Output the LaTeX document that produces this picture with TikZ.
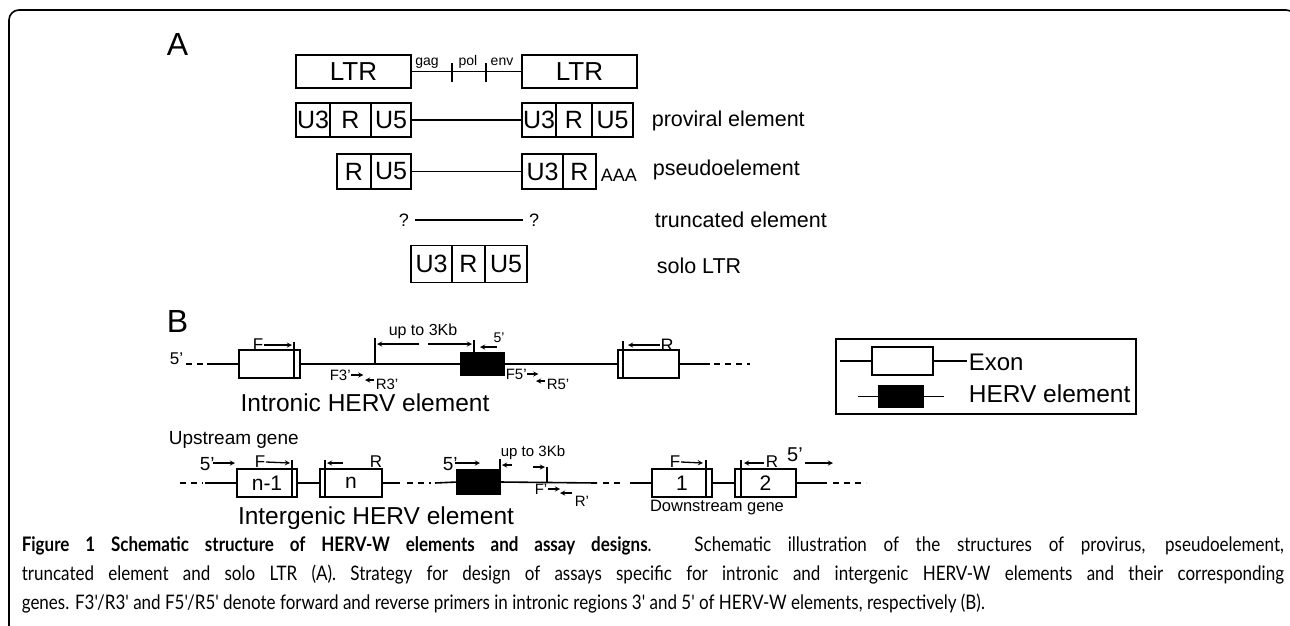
\documentclass[tikz,border=0pt]{standalone}
\usepackage{fontspec}
\setmainfont{Liberation Sans}
\newfontfamily\capfont[FakeStretch=0.85]{Lato}
\usetikzlibrary{positioning}

\begin{document}
\begin{tikzpicture}[x=1pt, y=-1pt, >=stealth, line width=1.6pt,
    fsz/.style={font=\fontsize{#1}{#1}\selectfont},
    tag/.style={inner sep=0pt, fsz=#1},
    seg/.style={draw, inner sep=0pt, outer sep=0pt, minimum height=35, fsz=25},
    exon/.style={draw, fill=white, inner sep=0pt, outer sep=0pt, minimum height=28, fsz=21},
    herv/.style={draw, fill=black, inner sep=0pt, outer sep=0pt, minimum height=22},
    lab/.style={anchor=west, inner sep=0pt, fsz=21.5},
    pr/.style={line width=1.3pt},
    gap/.style={dash pattern=on 6pt off 5pt}]
	\useasboundingbox (0,0) rectangle (1290,625);
	\clip (0,0) rectangle (1290,625);
	\draw[rounded corners=10pt] (9,640) -- (9,10) -- (1296,10) -- (1296,640);
	% A: retroviral elements
	\node[anchor=base west, tag=32] (pA) at (166,55) {A};
	\node[seg, minimum height=33, minimum width=115, fsz=26] (ltrL) at (353.5,71.5) {LTR};
	\node[seg, minimum height=33, minimum width=115, fsz=26] (ltrR) at (579.5,71.5) {LTR};
	\draw (ltrL.east) -- (ltrR.west);
	\draw (452,63) -- (452,82) (486,63) -- (486,82);
	\node[tag=14, anchor=base] (gag) at (427,65) {gag};
	\node[tag=14, anchor=base] (pol) at (468,65) {pol};
	\node[tag=14, anchor=base] (env) at (502,65) {env};
	\node[seg, minimum height=34, minimum width=34] (pU3a) at (313,120) {U3};
	\node[seg, minimum height=34, minimum width=41, right=0pt of pU3a] (pRa) {R};
	\node[seg, minimum height=34, minimum width=40, right=0pt of pRa] (pU5a) {U5};
	\node[seg, minimum height=34, minimum width=34] (pU3b) at (539,120) {U3};
	\node[seg, minimum height=34, minimum width=36, right=0pt of pU3b] (pRb) {R};
	\node[seg, minimum height=34, minimum width=41, right=0pt of pRb] (pU5b) {U5};
	\draw (pU5a) -- (pU3b);
	\node[lab] (prov) at (651,121) {proviral element};
	\node[seg, minimum width=34] (sR) at (354,171.5) {R};
	\node[seg, minimum width=40, right=0pt of sR] (sU5) {U5};
	\node[seg, minimum width=41] (sU3) at (542.5,171.5) {U3};
	\node[seg, minimum width=33, right=0pt of sU3] (sR2) {R};
	\draw (sU5) -- (sU3);
	\node[tag=18, anchor=west] (polyA) at (600,175) {AAA};
	\node[lab] (pseudo) at (652,170) {pseudoelement};
	\node[tag=18] (q1) at (404,220) {?};
	\node[tag=18] (q2) at (534,220) {?};
	\draw ([xshift=5pt]q1.east) -- ([xshift=-5pt]q2.west);
	\node[lab] (trunc) at (654,220) {truncated element};
	\node[seg, minimum height=37, minimum width=41] (oU3) at (431.5,264) {U3};
	\node[seg, minimum height=37, minimum width=33, right=0pt of oU3] (oR) {R};
	\node[seg, minimum height=37, minimum width=42, right=0pt of oR] (oU5) {U5};
	\node[lab] (solo) at (656,266) {solo LTR};
	% B: intronic
	\node[anchor=base west, tag=32] (pB) at (166,332) {B};
	\node[tag=17, anchor=base west] (i5) at (169,364) {5'};
	\draw[gap] (186,364) -- (204,364);
	\node[exon, minimum width=61] (ex1) at (269.5,364) {};
	\draw (207,364) -- (ex1.west);
	\draw ([xshift=-6pt]ex1.south east) -- ++(0,-36);
	\node[tag=17] (iF) at (258,345) {F};
	\draw[->, pr] (iF.east) -- (292,345);
	\node[herv, minimum width=43] (ih) at (482.5,364) {};
	\draw (ex1.east) -- (ih.west);
	\draw (375,338) -- (375,364);
	\node[tag=16] (iup) at (423,331) {up to 3Kb};
	\draw[->, pr] (419,344) -- (377,344);
	\draw[->, pr] (428,344) -- (472,344);
	\draw (474,340) -- (474,353);
	\node[tag=14] (i5b) at (499,338) {5'};
	\draw[->, pr] (497,347) -- (480,347);
	\node[tag=15, anchor=west] (iF3) at (329,375) {F3'};
	\draw[->, pr] (iF3.east) -- ++(12,0);
	\node[tag=15, anchor=west] (iR3) at (375,384) {R3'};
	\draw[->, pr] (374,380) -- (365,380);
	\node[tag=15, anchor=west] (iF5) at (505,374) {F5'};
	\draw[->, pr] (iF5.east) -- ++(11,0);
	\node[tag=15, anchor=west] (iR5) at (546,384) {R5'};
	\draw[->, pr] (545,381) -- (536,381);
	\node[exon, minimum width=61] (ex2) at (648.5,364) {};
	\draw (ih.east) -- (ex2.west);
	\draw ([xshift=5pt]ex2.south west) -- ++(0,-37);
	\node[tag=18] (iR) at (667,345) {R};
	\draw[->, pr] (iR.west) -- (628,345);
	\draw (ex2.east) -- (710,364);
	\draw[gap] (714,364) -- (750,364);
	\node[tag=24.5] (intr) at (365,403) {Intronic HERV element};
	% legend
	\node[draw, minimum width=300, minimum height=75] (leg) at (986,376.5) {};
	\node[exon, minimum width=61] (lgE) at (902.5,361) {};
	\draw (840,361) -- (lgE.west) (lgE.east) -- (967,361);
	\node[tag=24, anchor=west] (lgEt) at (968,362) {Exon};
	\node[herv, minimum width=44, minimum height=21] (lgH) at (901,396.5) {};
	\draw (858,396.5) -- (lgH.west) (lgH.east) -- (944,396.5);
	\node[tag=24.5, anchor=west] (lgHt) at (968,394) {HERV element};
	% B: intergenic
	\node[tag=19, anchor=base west] (up) at (168,444) {Upstream gene};
	\draw[gap] (180,483) -- (203,483);
	\node[exon, minimum width=60] (exA) at (267,483) {n-1};
	\draw (205,483) -- (exA.west);
	\draw ([xshift=-5pt]exA.south east) -- ++(0,-37);
	\node[tag=19, anchor=base west] (g5) at (199,470) {5'};
	\draw[->, pr] (213,463) -- (235,463);
	\node[tag=17] (gF) at (260,462) {F};
	\draw[->, pr] (gF.east) -- (290,463);
	\node[exon, minimum width=62] (exB) at (351,483) {n};
	\draw (exA.east) -- (exB.west);
	\draw ([xshift=5pt]exB.south west) -- ++(0,-37);
	\node[tag=17] (gR) at (376,462) {R};
	\draw[->, pr] (343,463) -- (327,463);
	\node[herv, minimum width=43, minimum height=24] (gH) at (478.5,482) {};
	\draw (exB.east) -- (400,483);
	\draw[gap] (407,483) -- (431,483);
	\draw (435,483) -- (gH.west);
	\node[tag=19, anchor=base west] (g5b) at (442,470) {5'};
	\draw[->, pr] (455,463) -- (480,463);
	\draw (gH.north east) -- ++(0,-11);
	\draw[->, pr] (512,465) -- (502,465);
	\node[tag=15] (gup) at (533,453) {up to 3Kb};
	\draw[->, pr] (533,467) -- (545,467);
	\draw (547,467) -- (547,483);
	\node[tag=15, anchor=west] (gF1) at (534,489) {F'};
	\draw[->, pr] (gF1.east) -- ++(12,0);
	\node[tag=15, anchor=west] (gR1) at (574,501) {R'};
	\draw[->, pr] (572,493) -- (560,493);
	\node[exon, minimum width=60] (exC) at (682,483) {1};
	\draw (gH.east) -- (597,483);
	\draw[gap] (603,483) -- (621,483);
	\draw (630,483) -- (exC.west);
	\draw ([xshift=-6pt]exC.south east) -- ++(0,-37);
	\node[tag=17] (gF2) at (675,462) {F};
	\draw[->, pr] (gF2.east) -- (703,463);
	\node[exon, minimum width=61] (exD) at (765.5,483) {2};
	\draw (exC.east) -- (exD.west);
	\draw ([xshift=6pt]exD.south west) -- ++(0,-37);
	\node[tag=17] (gR2) at (772,462) {R};
	\draw[->, pr] (764,463) -- (744,463);
	\node[tag=20] (g5c) at (795,455) {5'};
	\draw[->, pr] (805,463) -- (833,463);
	\draw (exD.east) -- (827,483);
	\draw[gap] (833,483) -- (866,483);
	\node[tag=16.5] (down) at (717,508) {Downstream gene};
	\node[tag=24.5] (inter) at (376,518) {Intergenic HERV element};
	% caption
	\node[anchor=north west, inner sep=0pt, text width=1262pt, align=justify, font=\capfont\fontsize{20}{29}\selectfont] (cap) at (21,536) {\textbf{Figure 1 Schematic structure of HERV-W elements and assay designs}. Schematic illustration of the structures of provirus, pseudoelement,\linebreak truncated element and solo LTR (A). Strategy for design of assays specific for intronic and intergenic HERV-W elements and their corresponding\linebreak genes. F3'/R3' and F5'/R5' denote forward and reverse primers in intronic regions 3' and 5' of HERV-W elements, respectively (B).};
\end{tikzpicture}
\end{document}
